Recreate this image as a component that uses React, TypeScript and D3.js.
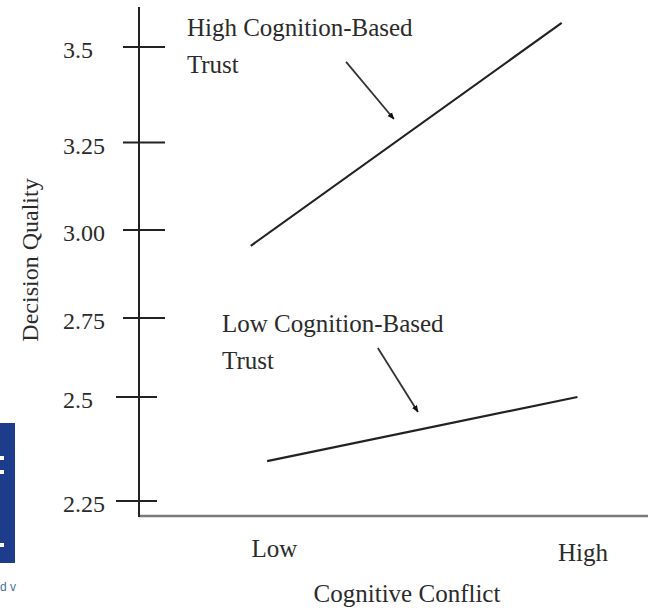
import React, { useEffect, useRef } from 'react'
import * as d3 from 'd3'

// y ticks (bottom to top) and their printed labels
const yTicks = [2.25, 2.5, 2.75, 3.0, 3.25, 3.5]
const yTickLabels = ['2.25', '2.5', '2.75', '3.00', '3.25', '3.5']

// x categories: 0 = Low, 1 = High cognitive conflict
const xCategories = ['Low', 'High']

// series: x position (in conflict units) and decision quality
const highTrustX = [-0.077, 0.931]
const highTrustY = [2.955, 3.563]
const lowTrustX = [-0.024, 0.982]
const lowTrustY = [2.346, 2.5]

const seriesNames = ['High Cognition-Based', 'Low Cognition-Based']

const W = 648
const H = 610
const FONT = '"Liberation Serif", "Times New Roman", serif'
const INK = '#2b2b2b'

export default function App() {
  const svgRef = useRef<SVGSVGElement>(null)

  useEffect(() => {
    document.body.style.margin = '0'
    if (!svgRef.current) return
    const svg = d3.select(svgRef.current)
    svg.selectAll('*').remove()

    const axisX = 139
    const axisBottom = 516

    // the printed tick spacing is uneven, so the scale is piecewise
    const y = d3.scaleLinear()
      .domain(yTicks)
      .range([501, 397, 318, 230, 142.5, 47])

    const x = d3.scaleLinear().domain([0, 1]).range([274.5, 583])

    // scan artefact at the left edge
    svg.append('rect').attr('x', 0).attr('y', 423).attr('width', 15).attr('height', 140).attr('fill', '#1d3c8c')
    ;[456, 470, 543].forEach(yy => {
      svg.append('rect').attr('x', 0).attr('y', yy).attr('width', 4).attr('height', 4).attr('fill', '#fff')
    })
    svg.append('text').attr('x', 0).attr('y', 591).attr('font-family', 'Arial, sans-serif')
      .attr('font-size', 12).attr('fill', '#4a6fa5').text('d v')

    // axes
    svg.append('line')
      .attr('x1', axisX).attr('x2', W).attr('y1', axisBottom).attr('y2', axisBottom)
      .attr('stroke', '#7a7a7a').attr('stroke-width', 2.5)
    svg.append('line')
      .attr('x1', axisX).attr('x2', axisX).attr('y1', 7).attr('y2', axisBottom + 1)
      .attr('stroke', '#222').attr('stroke-width', 2)

    // y ticks: the two lowest sit a bit further left
    yTicks.forEach((t, i) => {
      const left = t <= 2.5 ? 23 : 16
      const right = t <= 2.5 ? 18 : 26
      svg.append('line')
        .attr('x1', axisX - left).attr('x2', axisX + right)
        .attr('y1', y(t)).attr('y2', y(t))
        .attr('stroke', '#222').attr('stroke-width', 2)
      svg.append('text')
        .attr('x', 63).attr('y', y(t) + 11)
        .attr('font-family', FONT).attr('font-size', 24).attr('fill', INK)
        .text(yTickLabels[i])
    })

    // x category labels
    xCategories.forEach((c, i) => {
      svg.append('text')
        .attr('x', x(i)).attr('y', i === 0 ? 557 : 561)
        .attr('text-anchor', 'middle')
        .attr('font-family', FONT).attr('font-size', 25).attr('fill', INK)
        .text(c)
    })

    // axis titles
    svg.append('text')
      .attr('x', 407).attr('y', 602).attr('text-anchor', 'middle')
      .attr('font-family', FONT).attr('font-size', 25).attr('fill', INK)
      .text('Cognitive Conflict')
    svg.append('text')
      .attr('transform', `translate(38,260) rotate(-90)`).attr('text-anchor', 'middle')
      .attr('font-family', FONT).attr('font-size', 24).attr('fill', INK)
      .text('Decision Quality')

    // series lines
    const line = d3.line<[number, number]>().x(d => x(d[0])).y(d => y(d[1]))
    const series = [
      d3.zip(highTrustX, highTrustY) as [number, number][],
      d3.zip(lowTrustX, lowTrustY) as [number, number][],
    ]
    series.forEach(s => {
      svg.append('path').attr('d', line(s))
        .attr('fill', 'none').attr('stroke', '#222').attr('stroke-width', 2.2)
    })

    // annotations (positions in data units)
    const notes = [
      { name: seriesNames[0], tx: -0.284, ty: 3.529, from: [0.232, 3.461], to: [0.387, 3.3115] },
      { name: seriesNames[1], tx: -0.170, ty: 2.706, from: [0.335, 2.655], to: [0.465, 2.464] },
    ]
    const defs = svg.append('defs')
    defs.append('marker')
      .attr('id', 'head').attr('viewBox', '0 0 10 10').attr('refX', 9).attr('refY', 5)
      .attr('markerWidth', 4).attr('markerHeight', 4).attr('orient', 'auto')
      .append('path').attr('d', 'M0,1 L10,5 L0,9 z').attr('fill', '#111')

    notes.forEach(n => {
      const t = svg.append('text')
        .attr('x', x(n.tx)).attr('y', y(n.ty))
        .attr('font-family', FONT).attr('font-size', 25).attr('fill', INK)
      t.append('tspan').attr('x', x(n.tx)).text(n.name)
      t.append('tspan').attr('x', x(n.tx)).attr('dy', 37).text('Trust')
      svg.append('line')
        .attr('x1', x(n.from[0])).attr('y1', y(n.from[1]))
        .attr('x2', x(n.to[0])).attr('y2', y(n.to[1]))
        .attr('stroke', '#333').attr('stroke-width', 1.8)
        .attr('marker-end', 'url(#head)')
    })
  }, [])

  return (
    <svg
      ref={svgRef}
      width={W}
      height={H}
      style={{ display: 'block', background: '#fff' }}
    />
  )
}
